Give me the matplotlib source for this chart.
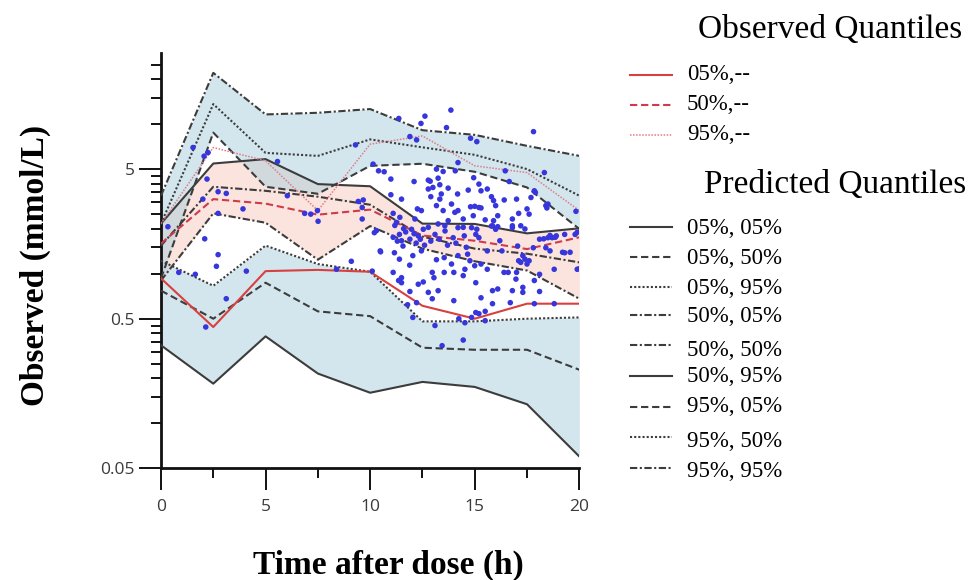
import matplotlib
matplotlib.use("Agg")
import matplotlib.pyplot as plt
from matplotlib.lines import Line2D
from matplotlib.ticker import FixedLocator, NullFormatter, FixedFormatter

# ---------------- data ----------------
time_bins = [0, 2.5, 5, 7.5, 10, 12.5, 15, 17.5, 20]

# predicted quantiles (percentile, CI level)
p05_ci05 = [0.332, 0.184, 0.381, 0.215, 0.160, 0.189, 0.175, 0.134, 0.060]
p05_ci50 = [0.77, 0.50, 0.87, 0.56, 0.52, 0.32, 0.31, 0.31, 0.228]
p05_ci95 = [1.22, 0.83, 1.54, 1.16, 1.03, 0.48, 0.48, 0.50, 0.51]
p50_ci05 = [0.90, 2.53, 2.19, 1.24, 2.08, 1.47, 1.21, 1.05, 0.68]
p50_ci50 = [1.54, 3.81, 3.58, 3.27, 2.89, 1.77, 1.47, 1.36, 1.19]
p50_ci95 = [2.16, 5.45, 5.83, 3.97, 3.84, 2.16, 2.15, 1.86, 2.01]
p95_ci05 = [0.93, 8.77, 3.81, 3.42, 5.26, 5.43, 4.80, 3.77, 1.99]
p95_ci50 = [2.16, 13.6, 6.42, 6.13, 7.90, 6.99, 6.23, 5.00, 3.32]
p95_ci95 = [3.32, 22.0, 11.6, 11.9, 12.6, 9.10, 8.47, 7.15, 6.13]

# observed quantiles
obs_q05 = [0.93, 0.44, 1.04, 1.06, 1.03, 0.61, 0.50, 0.63, 0.63]
obs_q50 = [1.59, 3.15, 2.94, 2.48, 2.68, 1.80, 1.66, 1.46, 1.75]
obs_q95 = [2.16, 6.97, 5.68, 2.64, 7.34, 8.33, 5.26, 4.74, 2.64]

# observed data points
obs_time = [
    0.33, 1.53, 2.06, 2.25, 2.2, 2.0, 2.73, 3.12, 2.73, 3.92, 2.09, 2.73, 2.65, 0.85, 1.64,
    4.08, 3.12, 2.14, 5.57, 6.04, 6.87, 7.16, 7.51, 7.48, 9.3, 9.43, 9.67, 9.62, 9.62, 9.1,
    8.39, 10.1, 10.14, 10.3,
    13.86, 12.62, 11.37, 12.43, 13.65, 11.9, 12.22, 14.8, 15.1, 10.4, 10.67, 14.2, 10.99, 12.1,
    12.78, 13.25, 13.49, 13.17, 12.78, 13.33, 13.73, 14.69, 14.18, 10.99, 11.5, 12.9, 13.33,
    13.89, 12.26, 12.45, 13.17, 13.49, 11.1, 11.42, 12.14, 14.05, 14.45, 13.73, 14.93, 13.25,
    13.57, 12.78, 14.45, 11.26, 12.87, 13.0, 14.07, 15.6, 15.9, 14.8, 15.0, 14.95, 15.2, 15.3,
    14.2, 13.4,
    17.81, 18.33, 16.46, 16.65, 17.85, 19.84, 15.8, 16.41, 17.69, 18.4, 18.45, 15.2, 15.3, 16.0,
    17.5, 17.1, 16.1, 15.5, 15.9, 16.8, 15.85, 16.1, 16.8, 17.9, 18.5, 19.9, 20.0, 19.56, 19.2,
    18.85, 18.6, 18.3, 17.0, 17.6, 17.2, 17.4,
    11.18, 11.4, 11.98, 12.3, 12.54, 13.1, 13.58, 13.97, 14.2, 14.5, 14.85, 10.2, 11.5, 11.57,
    10.5, 11.16, 12.45, 12.04, 11.4, 11.89, 13.17, 13.54, 13.89, 14.2, 14.66, 14.77, 11.1, 11.5,
    12.97, 13.05, 13.54, 14.0, 14.45, 14.53, 12.3, 12.54, 12.78, 13.25, 11.9, 11.5, 12.22, 12.97,
    14.0, 11.79, 12.04, 13.1, 14.24, 14.53, 14.85, 14.45, 13.44, 11.36, 10.48, 11.1, 11.3,
    11.7, 11.9, 12.1, 12.2, 11.6, 12.4, 12.6, 12.9, 13.3, 13.7, 14.1, 14.6,
    15.1, 15.2, 15.05, 15.8, 16.0, 16.8, 18.5, 18.7, 18.9, 19.3, 19.8, 18.1, 16.2, 17.05, 17.8,
    18.4, 18.6, 15.6, 16.3, 17.3, 17.4, 17.2, 17.5, 15.0, 15.3, 15.6, 16.4, 16.6, 17.0, 16.97,
    17.85, 18.1, 18.8, 19.3, 19.9, 15.05, 15.85, 16.1, 16.8, 17.3, 18.1, 15.3, 15.85, 16.7,
    15.05, 15.2, 15.5, 15.5, 17.85, 18.8, 17.6, 17.3, 17.1,
]
obs_conc = [
    2.06, 6.97, 6.1, 6.45, 4.29, 3.15, 3.53, 3.44, 2.53, 2.71, 1.71, 1.34, 1.12, 1.02, 0.99,
    1.04, 0.68, 0.44, 5.62, 3.32, 2.53, 2.5, 2.24, 2.64, 7.26, 3.04, 3.11, 2.77, 2.32, 1.21,
    1.07, 1.04, 5.4, 1.94,
    12.4, 11.3, 10.9, 10.1, 9.47, 8.25, 7.84, 8.04, 7.63, 4.87, 4.8, 5.53, 4.29, 4.13,
    4.22, 4.35, 4.82, 5.0, 3.68, 3.93, 3.73, 3.62, 3.41, 3.37, 3.15, 3.27, 3.15,
    2.92, 2.71, 2.64, 2.85, 2.64, 2.53, 2.38, 2.32, 2.57, 2.32, 2.26, 2.44, 2.15,
    2.09, 2.04, 2.04, 2.2, 4.15, 3.77, 4.87, 3.68, 3.08, 2.8, 2.82, 4.38, 3.97, 3.58,
    2.64, 3.41,
    8.9, 4.74, 4.87, 4.13, 3.58, 2.61, 3.27, 3.11, 3.23, 2.85, 2.75, 2.77, 2.75, 2.85,
    2.71, 2.53, 2.44, 2.29, 2.26, 2.32, 2.09, 2.06, 2.09, 3.49, 2.92, 1.89, 1.08, 1.39, 1.39,
    1.75, 1.80, 1.71, 3.15, 2.5, 2.09, 1.99,
    2.10, 1.83, 1.98, 1.79, 1.98, 1.83, 1.93, 1.74, 2.03, 1.79, 2.03, 1.88, 1.66, 1.53,
    1.40, 1.38, 1.42, 1.32, 1.25, 1.14, 1.24, 1.28, 1.16, 1.32, 1.35, 1.22, 1.02, 0.94,
    1.02, 0.94, 1.02, 1.02, 0.97, 1.07, 0.85, 0.88, 0.75, 0.77, 0.76, 0.87, 0.64, 0.68,
    0.66, 0.62, 0.51, 0.45, 0.50, 0.47, 0.51, 0.36, 0.33, 0.90, 1.42, 1.75, 1.65,
    1.9, 1.7, 1.85, 1.6, 2.0, 1.7, 1.55, 1.65, 1.7, 1.55, 1.6, 1.5,
    1.98, 1.74, 1.83, 2.08, 1.98, 2.03, 1.74, 1.74, 1.79, 1.83, 1.83, 1.70, 1.66, 1.53, 1.49,
    1.49, 1.42, 1.42, 1.42, 1.32, 1.25, 1.19, 1.16, 1.13, 1.16, 1.07, 1.02, 1.02, 1.02, 0.92,
    0.90, 0.99, 1.07, 1.38, 1.07, 0.87, 0.77, 0.79, 0.77, 0.75, 0.76, 0.69, 0.63, 0.64,
    0.55, 0.54, 0.56, 0.485, 0.63, 0.63, 1.22, 0.81, 1.22,
]

obs_labels = ["05%,--", "50%,--", "95%,--"]
pred_labels = ["05%, 05%", "05%, 50%", "05%, 95%", "50%, 05%", "50%, 50%",
               "50%, 95%", "95%, 05%", "95%, 50%", "95%, 95%"]

# ---------------- styles ----------------
W, H = 971, 580
SOLID = "-"
DASH = (0, (3.5, 1.8))
DOT = (0, (1.0, 1.0))
DASHDOT = (0, (3.5, 1.2, 1.0, 1.2))
pred_styles = [SOLID, DASH, DOT, DASHDOT, DASHDOT, SOLID, DASH, DOT, DASHDOT]
pred_series = [p05_ci05, p05_ci50, p05_ci95, p50_ci05, p50_ci50, p50_ci95,
               p95_ci05, p95_ci50, p95_ci95]
GREY = "#3c3c3c"
obs_colors = ["#d8403f", "#d03a4a", "#e07b8a"]
obs_styles = [SOLID, DASH, DOT]
obs_widths = [1.5, 1.5, 1.1]
obs_series = [obs_q05, obs_q50, obs_q95]

fig = plt.figure(figsize=(W / 100, H / 100), dpi=100)
ax = fig.add_axes([161 / W, 1 - 468.3 / H, (579.3 - 161) / W, (468.3 - 52.7) / H])

# bands
ax.fill_between(time_bins, p50_ci05, p50_ci95, color="#f8cfc3", alpha=0.55, lw=0, zorder=1)
ax.fill_between(time_bins, p05_ci05, p05_ci95, color="#a9cfdc", alpha=0.5, lw=0, zorder=1.1)
ax.fill_between(time_bins, p95_ci05, p95_ci95, color="#a9cfdc", alpha=0.5, lw=0, zorder=1.1)

for ser, st in zip(pred_series, pred_styles):
    ax.plot(time_bins, ser, color=GREY, ls=st, lw=1.5, zorder=3)
for ser, st, c, w in zip(obs_series, obs_styles, obs_colors, obs_widths):
    ax.plot(time_bins, ser, color=c, ls=st, lw=w, zorder=4)

ax.scatter(obs_time, obs_conc, s=16, color="#3636dc", edgecolors="none", zorder=5)

ax.set_yscale("log")
ax.set_ylim(0.05, 30)
ax.set_xlim(0, 20)
for s in ["top", "right"]:
    ax.spines[s].set_visible(False)
for s in ["left", "bottom"]:
    ax.spines[s].set_linewidth(2.0)
    ax.spines[s].set_color("#111111")

ax.xaxis.set_major_locator(FixedLocator([0, 5, 10, 15, 20]))
ax.xaxis.set_minor_locator(FixedLocator([2.5, 7.5, 12.5, 17.5]))
ax.yaxis.set_major_locator(FixedLocator([0.05, 0.5, 5]))
ax.yaxis.set_major_formatter(FixedFormatter(["0.05", "0.5", "5"]))
yminor = [0.1, 0.15, 0.2, 0.25, 0.3, 0.35, 0.4, 0.45,
          1, 1.5, 2, 2.5, 3, 3.5, 4, 4.5, 10, 15, 20, 25]
ax.yaxis.set_minor_locator(FixedLocator(yminor))
ax.yaxis.set_minor_formatter(NullFormatter())
ax.tick_params(axis="both", which="major", length=16, width=1.4, color="#111111",
               labelsize=12.5, labelcolor="#3a3a3a")
ax.tick_params(axis="both", which="minor", length=7.5, width=1.4, color="#111111")
ax.tick_params(axis="y", which="major", pad=3)
ax.tick_params(axis="x", which="major", pad=6)
for lab in ax.get_xticklabels() + ax.get_yticklabels():
    lab.set_fontfamily("Open Sans")

# axis labels
SERIF = "Liberation Serif"
fig.text(388 / W, 1 - 565 / H, "Time after dose (h)", ha="center", va="center",
         fontsize=24, fontweight="bold", family=SERIF)
fig.text(35 / W, 1 - 265 / H, "Observed (mmol/L)", ha="center", va="center",
         rotation=90, fontsize=24, fontweight="bold", family=SERIF)

# legend (drawn manually)
def px(x, y):
    return x / W, 1 - y / H

fig.text(*px(830, 30), "Observed Quantiles", ha="center", va="center",
         fontsize=24, family=SERIF)
fig.text(*px(835, 185), "Predicted Quantiles", ha="center", va="center",
         fontsize=24, family=SERIF)

obs_y = [75, 105, 135]
for lab, y, c, st, w in zip(obs_labels, obs_y, obs_colors, obs_styles, obs_widths):
    fig.add_artist(Line2D([630 / W, 672 / W], [1 - y / H] * 2, transform=fig.transFigure,
                          color=c, ls=st, lw=w))
    fig.text(*px(687, y), lab, ha="left", va="center", fontsize=16.5, family=SERIF)

pred_hy = [226.7, 256.7, 286.7, 315, 345, 376, 406.7, 436.7, 468.3]
pred_ty = [228, 258, 288, 316, 350, 376, 406.7, 441.7, 471.7]
for lab, hy, ty, st in zip(pred_labels, pred_hy, pred_ty, pred_styles):
    fig.add_artist(Line2D([630 / W, 672 / W], [1 - hy / H] * 2, transform=fig.transFigure,
                          color=GREY, ls=st, lw=1.5))
    fig.text(*px(687, ty), lab, ha="left", va="center", fontsize=16.5, family=SERIF)

fig.savefig("out.png", dpi=100, facecolor="white")
